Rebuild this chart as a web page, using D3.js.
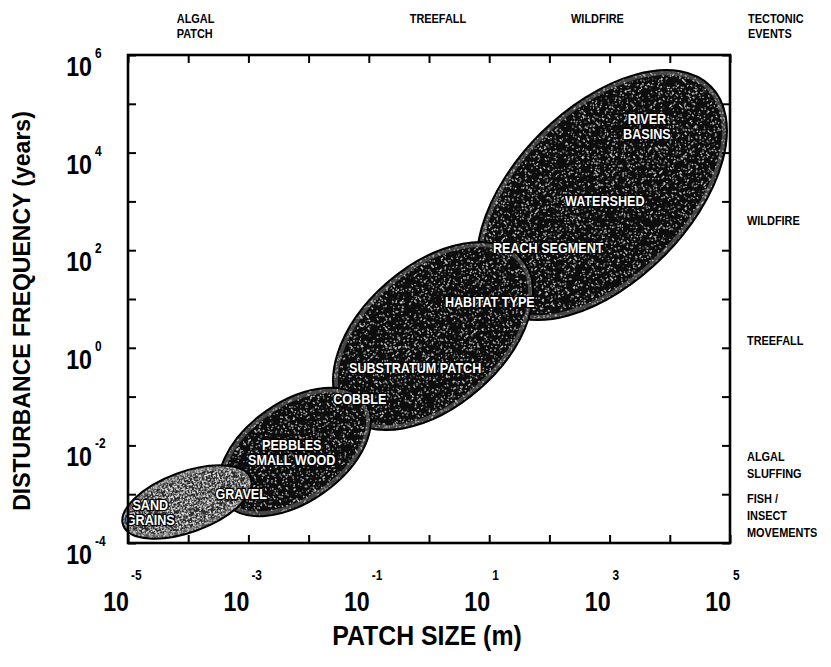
<!DOCTYPE html>
<html>
<head>
<meta charset="utf-8">
<script src="https://cdn.jsdelivr.net/npm/d3@7"></script>
<style>
  body { margin: 0; background: #fff; }
  svg { display: block; }
  .lbl { font-family: "Liberation Sans", Arial, sans-serif; font-weight: bold; }
</style>
</head>
<body>
<div id="chart"></div>
<script>

// decades shown on the two axes
var xTickExps = [-5, -4, -3, -2, -1, 0, 1, 2, 3, 4, 5];
var xLabelExps = [-5, -3, -1, 1, 3, 5];
var yTickExps = [-4, -3, -2, -1, 0, 1, 2, 3, 4, 5, 6];
var yLabelExps = [-4, -2, 0, 2, 4, 6];

// patch ellipses: major axis end points as log10(patch size m), log10(years),
// and half minor axis in decades of patch size
var patchNames = ['sand/gravel', 'pebbles/cobble', 'substratum/habitat', 'reach/watershed/basin'];
var patchFrom = [[-5.08, -3.64], [-3.40, -3.15], [-1.405, -1.35], [1.065, 0.90]];
var patchTo = [[-2.96, -2.68], [-1.06, -1.12], [1.54, 1.83], [4.68, 5.36]];
var patchHalfWidth = [0.50, 0.83, 1.17, 1.445];

// labels inside the ellipses (log10 m, log10 years at text centre)
var unitLabels = [['RIVER', 'BASINS'], ['WATERSHED'], ['REACH SEGMENT'], ['HABITAT TYPE'],
                  ['SUBSTRATUM PATCH'], ['COBBLE'], ['PEBBLES', 'SMALL WOOD'], ['GRAVEL'], ['SAND', 'GRAINS']];
var unitLogX = [3.62, 2.92, 1.98, 1.01, -0.23, -1.15, -2.28, -3.12, -4.63];
var unitLogY = [4.545, 3.01, 2.045, 0.94, -0.41, -1.05, -2.14, -3.00, -3.385];

// disturbance labels on the top (by patch size) and on the right (by frequency)
var topEvents = [['ALGAL', 'PATCH'], ['TREEFALL'], ['WILDFIRE'], ['TECTONIC', 'EVENTS']];
var topEventLogX = [-4.19, -0.32, 2.36, 5.30];
var sideEvents = [['WILDFIRE'], ['TREEFALL'], ['ALGAL', 'SLUFFING'], ['FISH /', 'INSECT', 'MOVEMENTS']];
var sideEventLogY = [2.62, 0.16, -2.22, -3.08];

var width = 831, height = 667,
    margin = {top: 55, right: 101, bottom: 124, left: 128};

var x = d3.scaleLog().domain([1e-5, 1e5]).range([margin.left, width - margin.right]);
var y = d3.scaleLog().domain([1e-4, 1e6]).range([height - margin.bottom, margin.top]);
var decadePx = x(10) - x(1);

var svg = d3.select('#chart').append('svg')
    .attr('width', width)
    .attr('height', height);

var defs = svg.append('defs');

// squeeze a text horizontally to look like a condensed face
function narrow(sel, f) {
    sel.each(function () {
        var len = this.getComputedTextLength();
        d3.select(this).attr('textLength', len * f).attr('lengthAdjust', 'spacingAndGlyphs');
    });
}

function stipple(id, freq, k, b, tone) {
    var f = defs.append('filter').attr('id', id)
        .attr('x', 0).attr('y', 0).attr('width', 1).attr('height', 1);
    f.append('feTurbulence')
        .attr('type', 'fractalNoise')
        .attr('baseFrequency', freq)
        .attr('numOctaves', 3)
        .attr('seed', 4)
        .attr('result', 'noise');
    f.append('feColorMatrix')
        .attr('in', 'noise')
        .attr('type', 'matrix')
        .attr('values', '0 0 0 0 ' + tone + ' 0 0 0 0 ' + tone + ' 0 0 0 0 ' + tone + ' ' + k + ' 0 0 0 ' + b)
        .attr('result', 'spots');
    f.append('feComposite')
        .attr('in', 'spots')
        .attr('in2', 'SourceGraphic')
        .attr('operator', 'atop');
}
stipple('darkDots', 0.55, 11, -7.2, 0.72);
stipple('lightDots', 0.6, 8, -4.2, 0.85);

var fills = ['#2c2c2c', '#0e0e0e', '#080808', '#0a0a0a'];

// ellipses in pixel space
var ell = patchNames.map(function (d, i) {
    var x1 = x(Math.pow(10, patchFrom[i][0])), y1 = y(Math.pow(10, patchFrom[i][1])),
        x2 = x(Math.pow(10, patchTo[i][0])), y2 = y(Math.pow(10, patchTo[i][1]));
    return {
        cx: (x1 + x2) / 2,
        cy: (y1 + y2) / 2,
        rx: Math.sqrt((x2 - x1) * (x2 - x1) + (y2 - y1) * (y2 - y1)) / 2,
        ry: patchHalfWidth[i] * decadePx,
        angle: Math.atan2(y2 - y1, x2 - x1) * 180 / Math.PI,
        fill: fills[i],
        light: i === 0
    };
});

function rot(d) { return 'rotate(' + d.angle + ',' + d.cx + ',' + d.cy + ')'; }

var g = svg.append('g');
var order = [3, 2, 1, 0];

order.forEach(function (i) {
    var d = ell[i];
    g.append('ellipse')
        .attr('cx', d.cx).attr('cy', d.cy)
        .attr('rx', d.rx).attr('ry', d.ry)
        .attr('transform', rot(d))
        .attr('fill', d.fill)
        .attr('filter', d.light ? 'url(#lightDots)' : 'url(#darkDots)');
    // lighter rim just inside the outline
    g.append('ellipse')
        .attr('cx', d.cx).attr('cy', d.cy)
        .attr('rx', d.rx - 3).attr('ry', d.ry - 3)
        .attr('transform', rot(d))
        .attr('fill', 'none')
        .attr('stroke', '#9a9a9a')
        .attr('stroke-opacity', 0.4)
        .attr('stroke-width', 4);
    g.append('ellipse')
        .attr('cx', d.cx).attr('cy', d.cy)
        .attr('rx', d.rx).attr('ry', d.ry)
        .attr('transform', rot(d))
        .attr('fill', 'none')
        .attr('stroke', '#000')
        .attr('stroke-width', 2);
});

// labels inside the ellipses
unitLabels.forEach(function (lines, i) {
    lines.forEach(function (s, j) {
        svg.append('text')
            .attr('class', 'lbl unit')
            .attr('text-anchor', 'middle')
            .attr('x', x(Math.pow(10, unitLogX[i])))
            .attr('y', y(Math.pow(10, unitLogY[i])) + 5 - (lines.length - 1) * 7.5 + j * 15)
            .style('font-size', '14px')
            .attr('fill', '#fff')
            .attr('stroke', '#000')
            .attr('stroke-width', 2.6)
            .attr('paint-order', 'stroke')
            .text(s);
    });
});
narrow(svg.selectAll('.unit'), 0.9);

// axes: inward ticks on all four sides
var xs = xTickExps.map(function (e) { return Math.pow(10, e); });
var ys = yTickExps.map(function (e) { return Math.pow(10, e); });

svg.append('g')
    .attr('transform', 'translate(0,' + (height - margin.bottom) + ')')
    .call(d3.axisBottom(x).tickValues(xs).tickSize(-8).tickFormat(''));
svg.append('g')
    .attr('transform', 'translate(0,' + margin.top + ')')
    .call(d3.axisTop(x).tickValues(xs).tickSize(-8).tickFormat(''));
svg.append('g')
    .attr('transform', 'translate(' + margin.left + ',0)')
    .call(d3.axisLeft(y).tickValues(ys).tickSize(-8).tickFormat(''));
svg.append('g')
    .attr('transform', 'translate(' + (width - margin.right) + ',0)')
    .call(d3.axisRight(y).tickValues(ys).tickSize(-8).tickFormat(''));

svg.selectAll('.domain').remove();
svg.selectAll('.tick line').attr('stroke', '#000').attr('stroke-width', 2);

svg.append('rect')
    .attr('x', margin.left).attr('y', margin.top)
    .attr('width', width - margin.left - margin.right)
    .attr('height', height - margin.top - margin.bottom)
    .attr('fill', 'none')
    .attr('stroke', '#000')
    .attr('stroke-width', 2.6);

// power-of-ten tick labels
var xl = svg.append('g').attr('class', 'lbl');
xLabelExps.forEach(function (e) {
    var px = x(Math.pow(10, e));
    xl.append('text').attr('class', 'base').attr('x', px + 1).attr('y', 611)
        .attr('text-anchor', 'end').style('font-size', '27px').text('10');
    xl.append('text').attr('class', 'sup').attr('x', px + 3).attr('y', 580)
        .style('font-size', '14px').text(e < 0 ? '-' + (-e) : e);
});

var yl = svg.append('g').attr('class', 'lbl');
yLabelExps.forEach(function (e) {
    var py = y(Math.pow(10, e));
    yl.append('text').attr('class', 'base').attr('x', 92).attr('y', py + 21)
        .attr('text-anchor', 'end').style('font-size', '27px').text('10');
    yl.append('text').attr('class', 'sup').attr('x', 95).attr('y', py + 3)
        .style('font-size', '14px').text(e < 0 ? '-' + (-e) : e);
});
narrow(svg.selectAll('.base'), 0.86);
narrow(svg.selectAll('.sup'), 0.85);

// axis titles
svg.append('text')
    .attr('transform', 'translate(30,' + ((margin.top + height - margin.bottom) / 2 + 12) + ') rotate(-90)')
    .attr('text-anchor', 'middle')
    .attr('class', 'lbl')
    .style('font-size', '23px')
    .text('DISTURBANCE  FREQUENCY  (years)');

svg.append('text')
    .attr('class', 'lbl xt')
    .attr('x', 427).attr('y', 645)
    .attr('text-anchor', 'middle')
    .style('font-size', '27px')
    .text('PATCH  SIZE (m)');
narrow(svg.selectAll('.xt'), 0.92);

// disturbance events along the top
topEvents.forEach(function (lines, i) {
    lines.forEach(function (s, j) {
        svg.append('text').attr('class', 'lbl ev')
            .style('font-size', '13px')
            .attr('x', x(Math.pow(10, topEventLogX[i])))
            .attr('y', 23 + j * 15)
            .text(s);
    });
});

// disturbance events along the right side
sideEvents.forEach(function (lines, i) {
    lines.forEach(function (s, j) {
        svg.append('text').attr('class', 'lbl ev')
            .style('font-size', '13px')
            .attr('x', 747)
            .attr('y', y(Math.pow(10, sideEventLogY[i])) + 5 + j * 17)
            .text(s);
    });
});
narrow(svg.selectAll('.ev'), 0.84);

</script>
</body>
</html>
